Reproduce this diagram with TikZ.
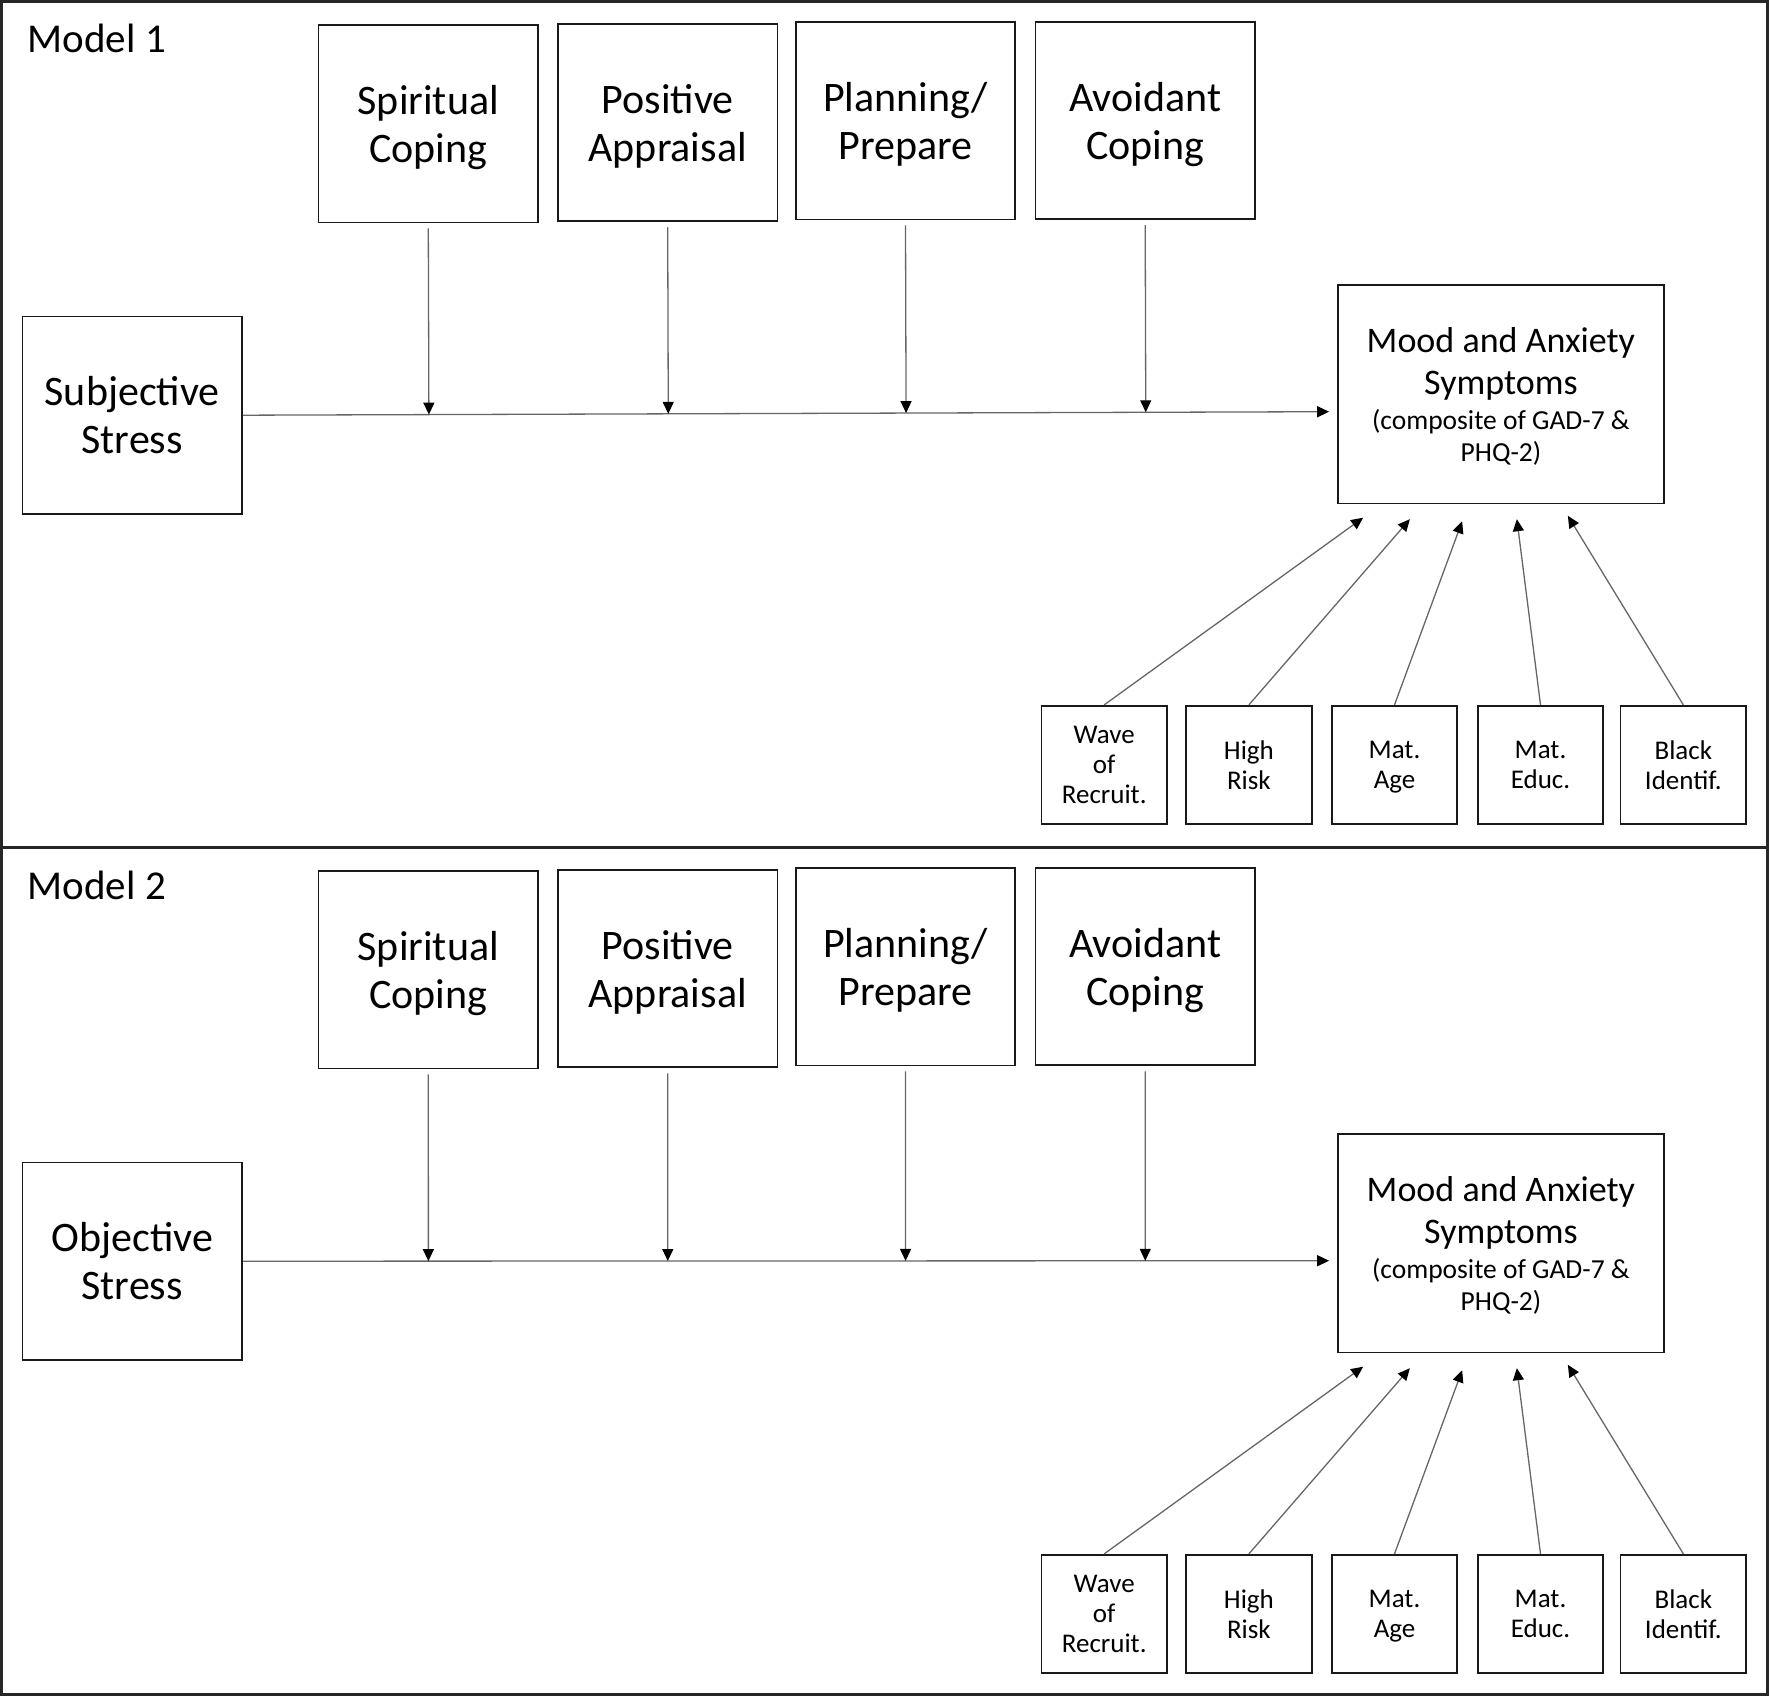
\documentclass[tikz,border=0pt]{standalone}
\usepackage{fontspec}
\setmainfont{Carlito}
\usetikzlibrary{arrows.meta,calc}
\tikzset{
  box/.style={draw=black!90, line width=1.8pt, inner sep=0pt, align=center, text depth=0pt, font=\fontsize{42}{48}\selectfont},
  bigbox/.style={box, minimum width=219.5pt, minimum height=197.5pt},
  moodbox/.style={box, minimum width=325.7pt, minimum height=218.2pt, font=\fontsize{36}{42}\selectfont},
  covbox/.style={box, minimum width=125.5pt, minimum height=118.3pt, font=\fontsize{27}{30}\selectfont},
  conn/.style={draw=black!60, line width=1.3pt, -{Triangle[length=12pt,width=11pt,color=black]}},
  frameline/.style={draw=black!85, line width=3pt},
  modellabel/.style={anchor=base west, inner sep=0pt, font=\fontsize{41}{48}\selectfont}
}
% #1 prefix, #2 shift of left/top group, #3 shift of right group, #4 label, #5 stress text
\newcommand\drawmodel[5]{%
 \begin{scope}[yshift=-#2pt]
  \node[modellabel] (#1lab) at (27.6,53) {#4};
  \node[bigbox] (#1sp) at (428.3,123.7) {Spiritual\\Coping};
  \node[bigbox] (#1pa) at (667.7,122.6) {Positive\\Appraisal};
  \node[bigbox] (#1pl) at (905.5,120.8) {Planning/\\Prepare};
  \node[bigbox] (#1av) at (1145.2,120.6) {Avoidant\\Coping};
  \node[bigbox] (#1ss) at (132.2,415.2) {#5};
 \end{scope}
 \begin{scope}[yshift=-#3pt]
  \node[moodbox] (#1mood) at (1500.9,394.3) {Mood and Anxiety\\Symptoms\\[-7pt]\fontsize{27.5}{32}\selectfont(composite of GAD-7 \&\\[-10pt]\fontsize{27.5}{32}\selectfont PHQ-2)};
  \node[covbox] (#1c1) at (1104.2,764.9) {Wave\\of\\Recruit.};
  \node[covbox] (#1c2) at (1248.9,764.9) {High\\Risk};
  \node[covbox] (#1c3) at (1394.5,764.9) {Mat.\\Age};
  \node[covbox] (#1c4) at (1540.5,764.9) {Mat.\\Educ.};
  \node[covbox] (#1c5) at (1683.3,764.9) {Black\\Identif.};
 \end{scope}
 \coordinate (#1hend) at ([xshift=-8pt,yshift=-17.4pt]#1mood.west);
 \draw[conn] (#1ss.east) -- (#1hend);
 \foreach \b in {sp,pa,pl,av}{
   \draw[conn] ([yshift=-5pt]#1\b.south) -- ($(#1ss.east)!([yshift=-5pt]#1\b.south)!(#1hend)$);
 }
 \coordinate (#1e1) at ([xshift=26pt,yshift=-13.4pt]#1mood.south west);
 \coordinate (#1e2) at ([xshift=72.7pt,yshift=-14.9pt]#1mood.south west);
 \coordinate (#1e3) at ([xshift=125pt,yshift=-17pt]#1mood.south west);
 \coordinate (#1e4) at ([xshift=179.7pt,yshift=-14.9pt]#1mood.south west);
 \coordinate (#1e5) at ([xshift=230.7pt,yshift=-11.5pt]#1mood.south west);
 \draw[conn] (#1c1.north) -- (#1e1);
 \draw[conn] (#1c2.north) -- (#1e2);
 \draw[conn] (#1c3.north) -- (#1e3);
 \draw[conn] (#1c4.north) -- (#1e4);
 \draw[conn] (#1c5.north) -- (#1e5);
}
\begin{document}
\begin{tikzpicture}[x=1pt,y=-1pt]
\useasboundingbox (0,0) rectangle (1771,1696);
\draw[frameline] (1.5,1.5) rectangle (1767.5,1694);
\draw[frameline] (1.5,847) -- (1767.5,847);
\drawmodel{a}{0}{0}{Model 1}{Subjective\\Stress}
\drawmodel{b}{846}{849}{Model 2}{Objective\\Stress}
\end{tikzpicture}
\end{document}
